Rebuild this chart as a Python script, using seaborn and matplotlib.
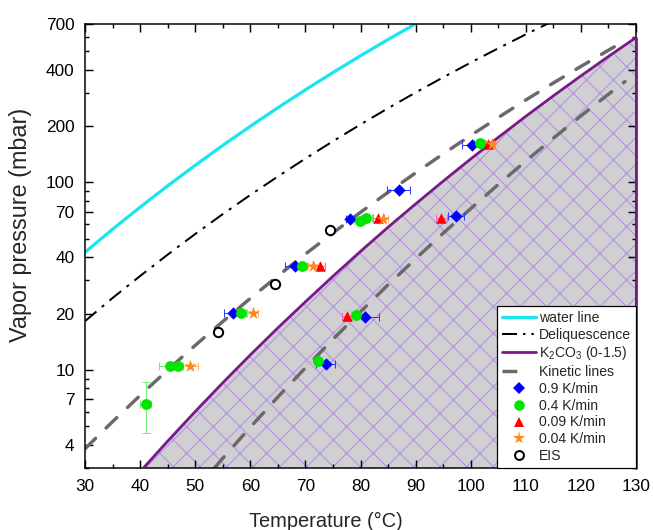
import matplotlib
matplotlib.use("Agg")
import matplotlib.pyplot as plt
from matplotlib.lines import Line2D
from matplotlib.ticker import FixedLocator, NullFormatter, FixedFormatter
import seaborn as sns
import pandas as pd

# ---------------- data ----------------
water_T = [30, 35, 40, 45, 50, 55, 60, 65, 70, 75, 80, 85, 90]
water_p = [42.4, 56.3, 73.8, 95.9, 123.4, 157.6, 199.3, 250.3, 311.8, 385.8, 473.9, 578.6, 701.8]

deliq_T = [30, 35, 40, 45, 50, 55, 60, 65, 70, 75, 80, 85, 90, 95, 100, 105, 110, 115]
deliq_p = [18.2, 24.2, 31.7, 41.2, 53.1, 67.8, 85.7, 107.6, 134.1, 165.9, 203.8, 248.8,
           301.8, 363.5, 435.8, 519.4, 616.2, 727.1]

k2co3_T = [40.6, 45, 50, 55, 60, 65, 70, 75, 80, 85, 90, 95, 100, 105, 110, 115, 120, 125, 130]
k2co3_p = [3.0, 4.17, 6.00, 8.54, 12.03, 16.76, 23.1, 31.6, 42.9, 57.7, 76.8, 101.6, 133.4,
           173.9, 225.3, 289.7, 370.0, 470.0, 593.0]

kinA_T = [30, 35, 40, 45, 50, 55, 60, 65, 70, 75, 80, 85, 90, 95, 100, 105, 110, 115, 120, 125, 128]
kinA_p = [3.8, 5.30, 7.31, 10.0, 13.52, 18.12, 24.08, 31.73, 41.5, 53.8, 69.3, 88.6, 112.5,
          142.0, 178.1, 222.0, 275.3, 339.3, 415.8, 507.3, 569.9]

kinB_T = [53.5, 55, 60, 65, 70, 75, 80, 85, 90, 95, 100, 105, 110, 115, 120, 125, 128]
kinB_p = [3.0, 3.38, 4.95, 7.17, 10.27, 14.57, 20.44, 28.45, 39.2, 53.6, 72.5, 97.5, 130.1,
          172.2, 226.3, 295.5, 345.4]

blue_T = [56.9, 68.1, 78.1, 86.9, 100.2, 73.7, 80.8, 97.3]
blue_p = [20.2, 35.7, 63.6, 91.5, 159.0, 10.8, 19.1, 66.2]
blue_xerr = [1.7, 1.8, 0.8, 2.1, 1.8, 1.7, 2.6, 1.5]

green_T = [41.0, 45.4, 46.8, 58.3, 69.3, 79.9, 81.0, 101.6, 72.2, 79.2]
green_p = [6.57, 10.5, 10.5, 20.2, 35.7, 62.1, 64.9, 163.0, 11.2, 19.6]
green_xerr = [1.0, 1.9, 1.0, 1.0, 1.0, 1.0, 1.0, 1.0, 1.9, 1.0]
green_ylow = [4.6]
green_yhigh = [8.6]

red_T = [72.6, 83.2, 94.7, 77.6, 103.2]
red_p = [35.7, 64.9, 65.0, 19.4, 161.0]
red_xerr = [1.0, 1.0, 1.0, 1.0, 1.0]

orange_T = [49.1, 60.4, 71.4, 84.0, 103.8]
orange_p = [10.5, 20.2, 35.7, 64.2, 160.5]
orange_xerr = [1.4, 1.0, 1.0, 1.0, 1.0]

eis_T = [54.2, 64.4, 74.5]
eis_p = [16.0, 28.7, 55.6]

x_ticks = [30, 40, 50, 60, 70, 80, 90, 100, 110, 120, 130]
y_ticks = [4, 7, 10, 20, 40, 70, 100, 200, 400, 700]
y_minor = [3, 5, 6, 8, 9, 30, 50, 60, 80, 90, 300, 500, 600]

# ---------------- style ----------------
sns.set_style("ticks")
plt.rcParams["font.family"] = ["Liberation Sans", "DejaVu Sans"]
plt.rcParams["mathtext.default"] = "regular"
plt.rcParams["hatch.linewidth"] = 0.9

DPI = 80
W, H = 653, 530
AX_L, AX_R, AX_T, AX_B = 85, 636, 24, 468
fig = plt.figure(figsize=(W / DPI, H / DPI), dpi=DPI)
ax = fig.add_axes([AX_L / W, 1 - AX_B / H, (AX_R - AX_L) / W, (AX_B - AX_T) / H])
ax.set_yscale("log")
YMIN, YMAX = 3.0, 700
ax.set_xlim(30, 130)
ax.set_ylim(YMIN, YMAX)

CYAN = "#19e6ee"
PURPLE = "#7a1a88"
GRAY = "#6a6a6a"

# shaded K2CO3 region
ax.fill_between(k2co3_T, k2co3_p, YMIN, facecolor="#d0d0d3", edgecolor="#b48ce4",
                hatch="x", linewidth=0, zorder=0.5)

# curves
sns.lineplot(x=water_T, y=water_p, ax=ax, color=CYAN, lw=2.9, estimator=None, sort=False, zorder=2)
sns.lineplot(x=deliq_T, y=deliq_p, ax=ax, color="black", lw=1.8, estimator=None, sort=False, zorder=2)
ax.lines[-1].set_dashes([7.5, 3.5, 1.5, 3.5])
sns.lineplot(x=kinA_T, y=kinA_p, ax=ax, color=GRAY, lw=3.1, estimator=None, sort=False, zorder=2)
ax.lines[-1].set_dashes([4.3, 4.3])
ax.lines[-1].set_dash_capstyle("round")
sns.lineplot(x=kinB_T, y=kinB_p, ax=ax, color=GRAY, lw=3.1, estimator=None, sort=False, zorder=2)
ax.lines[-1].set_dashes([4.3, 4.3])
ax.lines[-1].set_dash_capstyle("round")
sns.lineplot(x=k2co3_T, y=k2co3_p, ax=ax, color=PURPLE, lw=2.5, estimator=None, sort=False, zorder=2.6)
ax.plot([k2co3_T[-1], k2co3_T[-1]], [YMIN, k2co3_p[-1]], color=PURPLE, lw=2.5,
        clip_on=False, zorder=2.6)

# error bars
eb = dict(fmt="none", elinewidth=0.9, capsize=3.5, capthick=0.9, zorder=3)
ax.errorbar(blue_T, blue_p, xerr=blue_xerr, ecolor="#2b3cff", **eb)
ax.errorbar(green_T, green_p, xerr=green_xerr, ecolor="#6ef06e", **eb)
ax.errorbar(green_T[:1], green_p[:1],
            yerr=[[green_p[0] - green_ylow[0]], [green_yhigh[0] - green_p[0]]],
            ecolor="#6ef06e", **eb)
ax.errorbar(red_T, red_p, xerr=red_xerr, ecolor="#ff5fc0", **eb)
ax.errorbar(orange_T, orange_p, xerr=orange_xerr, ecolor="#ffb070", **eb)

# markers
sns.scatterplot(x=blue_T, y=blue_p, ax=ax, marker="D", s=62, color="#0000ff", linewidth=0, zorder=4)
sns.scatterplot(x=green_T, y=green_p, ax=ax, marker="o", s=95, color="#00e600", linewidth=0, zorder=4.1)
sns.scatterplot(x=red_T, y=red_p, ax=ax, marker="^", s=90, color="#ff0000", linewidth=0, zorder=4.2)
sns.scatterplot(x=orange_T, y=orange_p, ax=ax, marker="*", s=150, color="#ff8a1a", linewidth=0, zorder=4.3)
sns.scatterplot(x=eis_T, y=eis_p, ax=ax, marker="o", s=70, color="white", edgecolor="black",
                linewidth=1.8, zorder=4.4)

# axes / ticks
ax.xaxis.set_major_locator(FixedLocator(x_ticks))
ax.xaxis.set_minor_locator(FixedLocator([t + 5 for t in x_ticks[:-1]]))
ax.yaxis.set_major_locator(FixedLocator(y_ticks))
ax.yaxis.set_major_formatter(FixedFormatter([str(v) for v in y_ticks]))
ax.yaxis.set_minor_locator(FixedLocator(y_minor))
ax.yaxis.set_minor_formatter(NullFormatter())
ax.tick_params(which="both", direction="in", top=True, right=True, width=1.3, colors="black")
ax.tick_params(which="major", length=7.2, labelsize=15.5, pad=9.5)
ax.tick_params(which="minor", length=4)
for s in ax.spines.values():
    s.set_linewidth(1.35)
    s.set_color("black")

ax.set_xlabel("Temperature (°C)", fontsize=18)
ax.set_ylabel("Vapor pressure (mbar)", fontsize=21)
# label positions (reference places them off-centre)
ax.xaxis.set_label_coords((326 - AX_L) / (AX_R - AX_L), -(521 - AX_B) / (AX_B - AX_T),
                          transform=ax.transAxes)
ax.xaxis.label.set_va("center")
ax.yaxis.set_label_coords(-(AX_L - 20) / (AX_R - AX_L), (AX_B - 225) / (AX_B - AX_T),
                          transform=ax.transAxes)
ax.yaxis.label.set_va("center")

# legend
handles = [
    Line2D([], [], color=CYAN, lw=2.9),
    Line2D([], [], color="black", lw=1.8, dashes=[7.5, 3.0, 1.2, 3.0, 1.2, 3.0]),
    Line2D([], [], color=PURPLE, lw=2.5),
    Line2D([], [], color=GRAY, lw=3.1, dashes=[4.3, 20]),
    Line2D([], [], ls="none", marker="D", ms=7.5, color="#0000ff", mew=0),
    Line2D([], [], ls="none", marker="o", ms=9.5, color="#00e600", mew=0),
    Line2D([], [], ls="none", marker="^", ms=9.5, color="#ff0000", mew=0),
    Line2D([], [], ls="none", marker="*", ms=12, color="#ff8a1a", mew=0),
    Line2D([], [], ls="none", marker="o", ms=8, mfc="white", mec="black", mew=1.8),
]
labels = ["water line", "Deliquescence", "K$_2$CO$_3$ (0-1.5)", "Kinetic lines",
          "0.9 K/min", "0.4 K/min", "0.09 K/min", "0.04 K/min", "EIS"]
leg = ax.legend(handles, labels, loc="lower right", bbox_to_anchor=(1, 0), borderaxespad=0,
                fontsize=12.6, frameon=True, fancybox=False, framealpha=1, edgecolor="black",
                handlelength=2.4, handletextpad=0.25, labelspacing=0.2, borderpad=0.35)
leg.get_frame().set_linewidth(1.1)
leg.set_zorder(10)

fig.savefig("out.png", dpi=DPI)
